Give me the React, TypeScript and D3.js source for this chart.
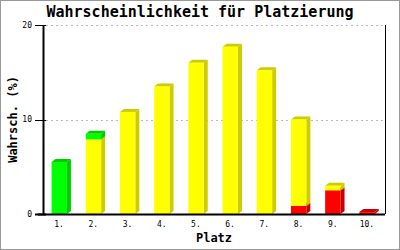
import React from "react";
import * as d3 from "d3";

const categories = ["1.", "2.", "3.", "4.", "5.", "6.", "7.", "8.", "9.", "10."];
const redValues = [0, 0, 0, 0, 0, 0, 0, 0.85, 2.5, 0.2];
const yellowValues = [0, 7.9, 10.8, 13.5, 16.0, 17.7, 15.2, 9.15, 0.5, 0];
const greenValues = [5.5, 0.6, 0, 0, 0, 0, 0, 0, 0, 0];
const yTicks = [0, 10, 20];

const W = 400, H = 250;
const left = 43, right = 385, top = 25, bottom = 214;
const mono = "'DejaVu Sans Mono', 'Liberation Mono', monospace";

const series = [
  { key: "red", values: redValues, front: "#ff0000", dark: "#cc0000" },
  { key: "yellow", values: yellowValues, front: "#ffff00", dark: "#cccc00" },
  { key: "green", values: greenValues, front: "#00ff00", dark: "#00cc00" },
];

export default function App() {
  const x = d3.scaleBand<string>().domain(categories).range([left, right]);
  const y = d3.scaleLinear().domain([0, 20]).range([bottom, top]);
  const bw = x.bandwidth();
  const fw = bw * 0.45;
  const dx = 4, dy = -3;

  const boxes: React.ReactNode[] = [];
  categories.forEach((c, i) => {
    let acc = 0;
    const x0 = (x(c) as number) + bw * 0.25;
    const x1 = x0 + fw;
    series.forEach((s) => {
      const v = s.values[i];
      if (v <= 0) return;
      const yb = y(acc);
      const yt = y(acc + v);
      acc += v;
      boxes.push(
        <g key={c + s.key}>
          <polygon
            points={`${x1},${yb} ${x1 + dx},${yb + dy} ${x1 + dx},${yt + dy} ${x1},${yt}`}
            fill={s.dark}
          />
          <polygon
            points={`${x0},${yt} ${x0 + dx},${yt + dy} ${x1 + dx},${yt + dy} ${x1},${yt}`}
            fill={s.dark}
          />
          <rect x={x0} y={yt} width={fw} height={yb - yt} fill={s.front} />
        </g>
      );
    });
  });

  return (
    <svg width={W} height={H} style={{ position: "absolute", left: 0, top: 0 }}>
      <rect x={0} y={0} width={W} height={H} fill="#ffffff" stroke="#999999" strokeWidth={2} />
      <text x={200} y={17} textAnchor="middle" fontFamily={mono} fontWeight="bold" fontSize={15} fill="#000">
        Wahrscheinlichkeit für Platzierung
      </text>
      {yTicks.filter((t) => t > 0).map((t) => (
        <line key={"g" + t} x1={left + 3} x2={right} y1={Math.round(y(t)) + 0.5} y2={Math.round(y(t)) + 0.5}
          stroke="#bbbbbb" strokeDasharray="2,3" />
      ))}
      {boxes}
      <line x1={left + 0.5} x2={left + 0.5} y1={top} y2={bottom + 1} stroke="#000" strokeWidth={2} />
      <line x1={left - 5} x2={right} y1={bottom + 0.5} y2={bottom + 0.5} stroke="#000" strokeWidth={2} />
      <line x1={right + 0.5} x2={right + 0.5} y1={top} y2={bottom} stroke="#000" strokeWidth={1} />
      {yTicks.map((t) => (
        <g key={"t" + t}>
          <line x1={left - 8} x2={left + 3} y1={Math.round(y(t)) + 0.5} y2={Math.round(y(t)) + 0.5} stroke="#000" strokeWidth={t === 0 ? 2 : 1} />
          <text x={left - 11} y={y(t)} dy="0.35em" textAnchor="end" fontFamily={mono} fontSize={8} fill="#000">
            {t}
          </text>
        </g>
      ))}
      {categories.map((c) => (
        <text key={"x" + c} x={(x(c) as number) + bw / 2 - 1} y={227} textAnchor="middle" fontFamily={mono} fontSize={8} fill="#000">
          {c}
        </text>
      ))}
      <text x={(left + right) / 2} y={242} textAnchor="middle" fontFamily={mono} fontWeight="bold" fontSize={12} fill="#000">
        Platz
      </text>
      <text transform={`translate(17,${(top + bottom) / 2}) rotate(-90)`} textAnchor="middle" fontFamily={mono} fontWeight="bold" fontSize={12} fill="#000">
        Wahrsch. (%)
      </text>
    </svg>
  );
}
